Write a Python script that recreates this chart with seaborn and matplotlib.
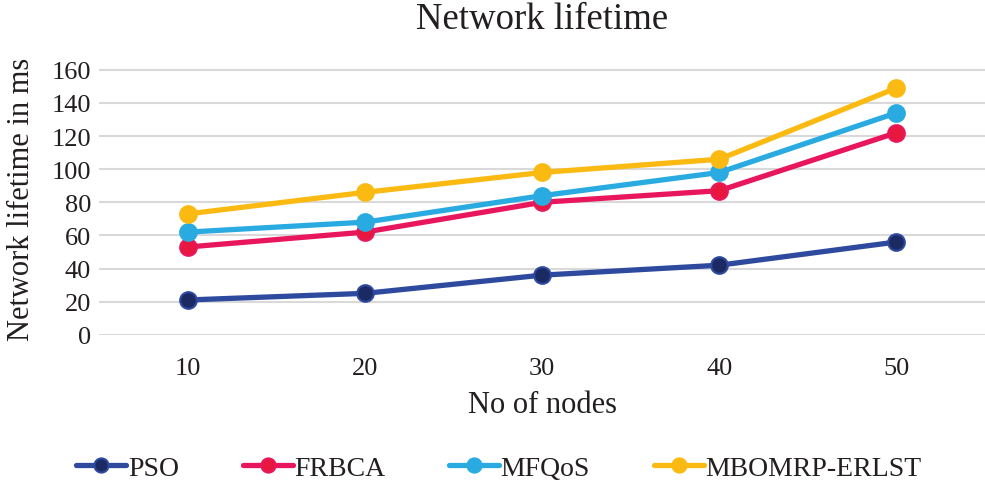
import matplotlib
matplotlib.use("Agg")
import matplotlib.pyplot as plt
import seaborn as sns
import pandas as pd

nodes = ["10", "20", "30", "40", "50"]
pso = [21, 25, 36, 42, 56]
frbca = [53, 62, 80, 87, 122]
mfqos = [62, 68, 84, 98, 134]
mbomrp = [73, 86, 98, 106, 149]

series_names = ["PSO", "FRBCA", "MFQoS", "MBOMRP-ERLST"]
line_colors = ["#2E4A9E", "#E8175D", "#29ABE2", "#FBBA12"]
face_colors = ["#1B2A63", "#E8173F", "#29ABE2", "#FBBA12"]

rows = []
for name, vals in zip(series_names, [pso, frbca, mfqos, mbomrp]):
    for i, v in enumerate(vals):
        rows.append({"x": i, "nodes": nodes[i], "value": v, "series": name})
df = pd.DataFrame(rows)

sns.set_theme(style="white")
plt.rcParams["font.family"] = ["Liberation Serif", "DejaVu Serif"]

txt = "#231F20"
fig = plt.figure(figsize=(9.85, 4.81), dpi=100)
ax = fig.add_axes([0.101, 0.302, 0.899, 0.568])

for name, lc, fc in zip(series_names, line_colors, face_colors):
    sub = df[df["series"] == name]
    sns.lineplot(data=sub, x="x", y="value", ax=ax, color=lc, linewidth=3.8,
                 marker="o", markersize=12, markerfacecolor=fc,
                 markeredgecolor=lc, markeredgewidth=1.5, label=name, zorder=3)

ax.set_xlim(-0.5, 4.5)
ax.set_ylim(0, 165)
ax.set_yticks(range(0, 161, 20))
ax.set_xticks(range(len(nodes)))
ax.set_xticklabels(nodes)
ax.yaxis.grid(True, color="#D9D9D9", linewidth=1.5)
ax.xaxis.grid(False)
for s in ax.spines.values():
    s.set_visible(False)
ax.tick_params(axis="both", labelsize=19, colors=txt, length=0)
ax.tick_params(axis="x", pad=16)
ax.tick_params(axis="y", pad=6)
ax.set_xlabel("No of nodes", fontsize=22, color=txt, labelpad=8)
ax.set_ylabel("Network lifetime in ms", fontsize=22, color=txt, labelpad=11)
fig.text(0.55, 0.958, "Network lifetime", fontsize=26.5, color=txt,
         ha="center", va="center")

ax.legend(loc="upper center", bbox_to_anchor=(0.451, -0.35), ncol=4, frameon=False,
          fontsize=20, handlelength=1.8, columnspacing=2.3, handletextpad=0.05,
          labelcolor=txt, markerscale=0.85)

fig.savefig("out.png", dpi=100)
